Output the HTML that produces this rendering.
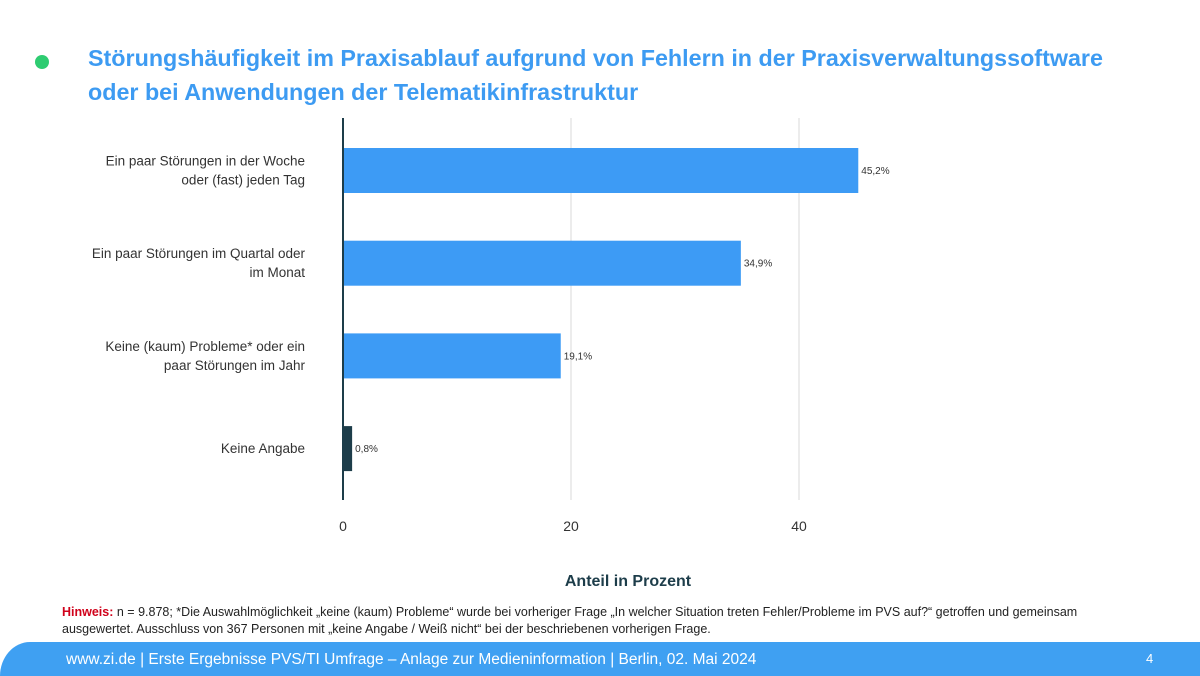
<!DOCTYPE html>
<html><head><meta charset="utf-8"><style>
body{margin:0;width:1200px;height:676px;overflow:hidden;background:#fff;font-family:"Liberation Sans",sans-serif;position:relative}
.t{position:absolute;left:88px;top:41px;color:#3d9bf2;font-weight:bold;font-size:23.3px;line-height:34px}
</style></head><body>
<div style="position:absolute;left:35px;top:55px;width:14px;height:14px;border-radius:50%;background:#2ecc71"></div>
<div class="t">Störungshäufigkeit im Praxisablauf aufgrund von Fehlern in der Praxisverwaltungssoftware<br>oder bei Anwendungen der Telematikinfrastruktur</div>
<svg id="c" width="1200" height="600" style="position:absolute;left:0;top:0"></svg>
<div style="position:absolute;left:62px;top:604px;font-size:12.5px;line-height:17px;color:#222">
<span style="color:#d0021b;font-weight:bold">Hinweis:</span> n = 9.878; *Die Auswahlmöglichkeit „keine (kaum) Probleme“ wurde bei vorheriger Frage „In welcher Situation treten Fehler/Probleme im PVS auf?“ getroffen und gemeinsam<br>ausgewertet. Ausschluss von 367 Personen mit „keine Angabe / Weiß nicht“ bei der beschriebenen vorherigen Frage.</div>
<div style="position:absolute;left:0;top:642px;width:1200px;height:34px;background:#3fa0f2;border-top-left-radius:30px 34px"></div>
<div style="position:absolute;left:66px;top:651px;color:#fff;font-size:15.5px">www.zi.de | Erste Ergebnisse PVS/TI Umfrage – Anlage zur Medieninformation | Berlin, 02. Mai 2024</div>
<div style="position:absolute;left:1146px;top:651px;color:#fff;font-size:13px">4</div>
<script>
const categories=[["Ein paar Störungen in der Woche","oder (fast) jeden Tag"],["Ein paar Störungen im Quartal oder","im Monat"],["Keine (kaum) Probleme* oder ein","paar Störungen im Jahr"],["Keine Angabe"]];
const values=[45.2,34.9,19.1,0.8];
const labels=["45,2%","34,9%","19,1%","0,8%"];
const ticks=[0,20,40];
const svg=document.getElementById('c');const NS='http://www.w3.org/2000/svg';
const x=v=>343+v*11.4;const y=i=>148+i*92.7;
function el(t,a,p){const e=document.createElementNS(NS,t);for(const k in a)e.setAttribute(k,a[k]);(p||svg).appendChild(e);return e;}
ticks.forEach(t=>{if(t>0){const g=el('line',{x1:x(t),x2:x(t),y1:118,y2:500,stroke:'#e6e6e6','stroke-width':1.5});

}
const tl=el('text',{x:x(t),y:531,'text-anchor':'middle','font-size':14,fill:'#333'});tl.textContent=t;

});
values.forEach((v,i)=>{const r=el('rect',{x:343,y:y(i),width:x(v)-343,height:45,fill:i==3?'#1d3d4a':'#3d9bf5'});


const l=el('text',{x:x(v)+3,y:y(i)+26,'font-size':10,fill:'#333'});l.textContent=labels[i];


const lines=categories[i];lines.forEach((s,j)=>{const c=el('text',{x:305,y:y(i)+27+(j-(lines.length-1)/2)*19,'text-anchor':'end','font-size':13.5,fill:'#333'});c.textContent=s;

});});
const ax=el('line',{x1:343,x2:343,y1:118,y2:500,stroke:'#1d3d4a','stroke-width':2});


const at=el('text',{x:628,y:586,'text-anchor':'middle','font-size':16,'font-weight':'bold',fill:'#1d3d4a'});at.textContent='Anteil in Prozent';


</script>
</body></html>
